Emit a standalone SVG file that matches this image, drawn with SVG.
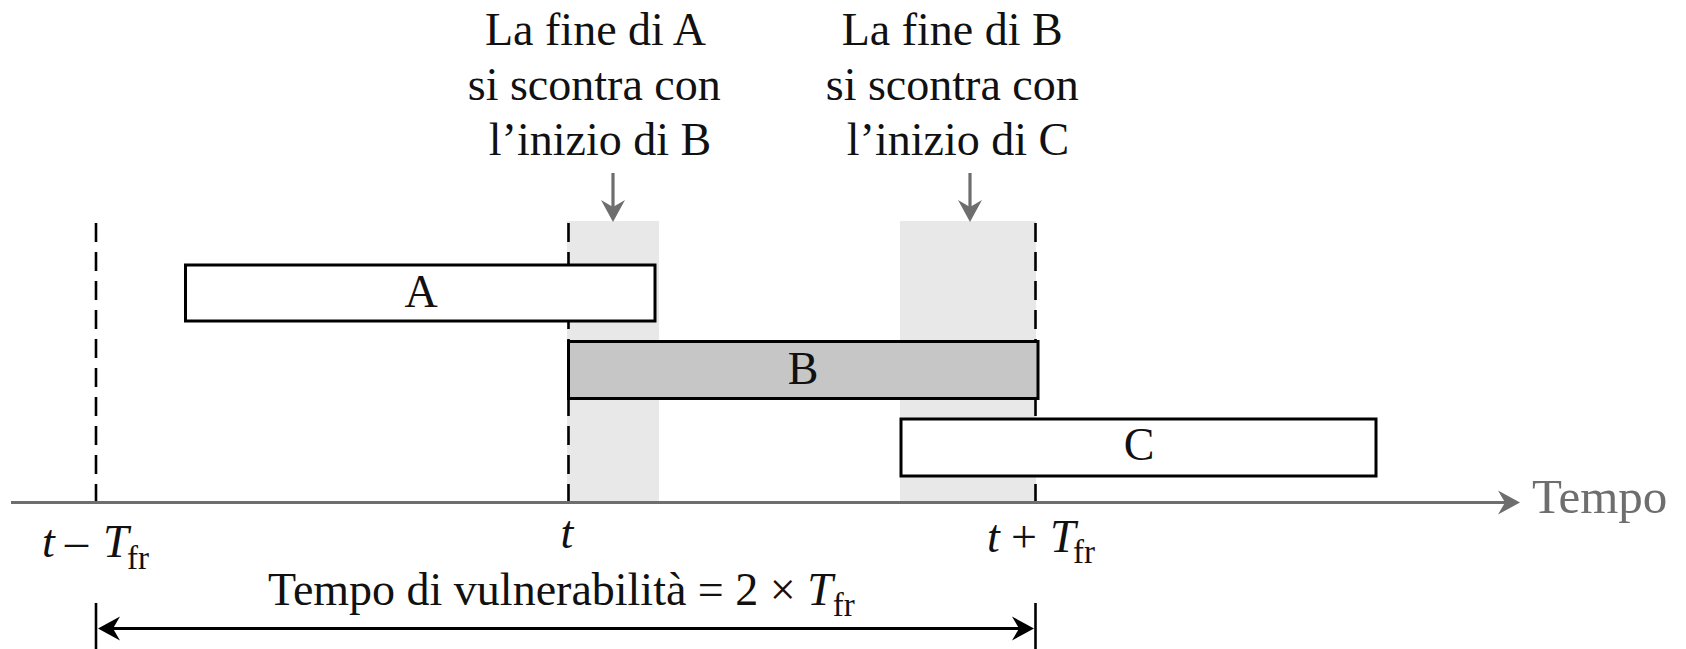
<svg xmlns="http://www.w3.org/2000/svg" width="1686" height="649" viewBox="0 0 1686 649">
  <style>
    .txt { font-family: "Liberation Serif", "Times New Roman", serif; font-size: 46px; fill: #111; }
    .it { font-style: italic; }
    .sub { font-size: 33px; font-style: normal; }
    .shade { fill: #e8e8e8; }
    .dash { stroke: #000; stroke-width: 2.6; stroke-dasharray: 19 10; fill: none; }
    .box { stroke: #000; stroke-width: 3; }
    .gray { stroke: #6e6e6e; stroke-width: 3.2; fill: none; }
    .blk { stroke: #000; stroke-width: 3.2; fill: none; }
    .tick { stroke: #000; stroke-width: 2.6; }
  </style>
  <defs>
    <marker id="ahGray" viewBox="-1 -14 25 28" refX="7" refY="0" markerWidth="25" markerHeight="28" markerUnits="userSpaceOnUse" orient="auto">
      <path d="M22,0 L0,-12 L7,0 L0,12 Z" fill="#6e6e6e"/>
    </marker>
    <marker id="ahBlk" viewBox="-1 -14 25 28" refX="7" refY="0" markerWidth="25" markerHeight="28" markerUnits="userSpaceOnUse" orient="auto-start-reverse">
      <path d="M22,0 L0,-12 L7,0 L0,12 Z" fill="#000"/>
    </marker>
  </defs>

  <rect x="0" y="0" width="1686" height="649" fill="#fff"/>

  <g id="shades">
    <rect class="shade" x="567" y="221" width="92" height="281"/>
    <rect class="shade" x="900" y="221" width="136" height="281"/>
  </g>

  <g id="time-marks">
    <line class="dash" x1="96" y1="223" x2="96" y2="502"/>
    <line class="dash" x1="568.5" y1="223" x2="568.5" y2="502"/>
    <line class="dash" x1="1035.5" y1="223" x2="1035.5" y2="502"/>
  </g>

  <g id="frame-A">
    <rect class="box" x="185.5" y="265" width="469.5" height="56" fill="#fff"/>
    <text class="txt" x="421" y="307" text-anchor="middle">A</text>
  </g>
  <g id="frame-B">
    <rect class="box" x="568.5" y="341.5" width="469.5" height="57" fill="#c6c6c6"/>
    <text class="txt" x="803" y="384" text-anchor="middle">B</text>
  </g>
  <g id="frame-C">
    <rect class="box" x="901" y="419" width="475" height="57" fill="#fff"/>
    <text class="txt" x="1139" y="460" text-anchor="middle">C</text>
  </g>

  <g id="note-AB">
    <text class="txt" text-anchor="middle">
      <tspan x="600" y="45">La fine di A</tspan>
      <tspan x="600" y="100">si scontra con</tspan>
      <tspan x="600" y="155">l’inizio di B</tspan>
    </text>
  </g>
  <g id="note-BC">
    <text class="txt" text-anchor="middle">
      <tspan x="958" y="45">La fine di B</tspan>
      <tspan x="958" y="100">si scontra con</tspan>
      <tspan x="958" y="155">l’inizio di C</tspan>
    </text>
  </g>

  <g id="axis-labels">
    <text class="txt" x="1532" y="513" style="fill:#6e6e6e;font-size:49px">Tempo</text>
    <text class="txt" y="557"><tspan class="it" x="42">t</tspan><tspan x="65">–</tspan><tspan class="it" x="103">T</tspan><tspan class="sub" x="127" y="569">fr</tspan></text>
    <text class="txt it" x="567" y="548" text-anchor="middle">t</text>
    <text class="txt" y="552"><tspan class="it" x="987">t</tspan><tspan x="1011">+</tspan><tspan class="it" x="1050">T</tspan><tspan class="sub" x="1073" y="563">fr</tspan></text>
    <text class="txt" x="268" y="605">Tempo di vulnerabilità = 2 × <tspan class="it">T</tspan><tspan class="sub" dy="11">fr</tspan></text>
  </g>

  <g id="connectors">
    <line class="gray" x1="11" y1="502.5" x2="1505" y2="502.5" marker-end="url(#ahGray)"/>
    <line class="gray" x1="613" y1="173" x2="613" y2="207" marker-end="url(#ahGray)"/>
    <line class="gray" x1="970" y1="173" x2="970" y2="207" marker-end="url(#ahGray)"/>
    <line class="tick" x1="96" y1="603" x2="96" y2="649"/>
    <line class="tick" x1="1035.5" y1="603" x2="1035.5" y2="649"/>
    <line class="blk" x1="113" y1="628.5" x2="1019" y2="628.5" marker-start="url(#ahBlk)" marker-end="url(#ahBlk)"/>
  </g>
</svg>
